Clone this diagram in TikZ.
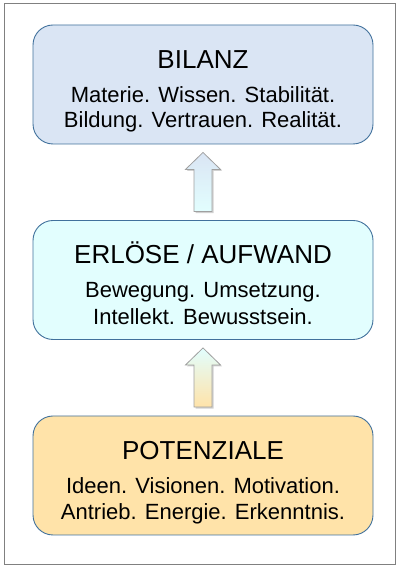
\documentclass[tikz,border=0pt]{standalone}
\usepackage{fontspec}
\setmainfont{Liberation Sans}
\usetikzlibrary{calc}
\definecolor{frameg}{HTML}{808080}
\definecolor{boxline}{HTML}{41719C}
\definecolor{topfill}{HTML}{DAE5F4}
\definecolor{midfill}{HTML}{E2FEFE}
\definecolor{botfill}{HTML}{FFE3A9}
\definecolor{arrline}{HTML}{A0A0A0}
\tikzset{
  panel/.style={draw=boxline, line width=0.9pt, rounded corners=20pt,
    minimum width=340pt, minimum height=119pt, inner sep=0pt},
  ttl/.style={anchor=base, inner sep=0pt, font=\fontsize{26}{30}\selectfont},
  txt/.style={anchor=base, inner sep=0pt, font=\fontsize{22}{25}\selectfont},
  blockarrow/.style={draw=arrline, line width=0.8pt},
}
\begin{document}
\begin{tikzpicture}[x=1pt,y=1pt]
\useasboundingbox (0,0) rectangle (401,572);
\draw[frameg, line width=1pt] (4,7) rectangle (395,568);

\node[panel, fill=topfill] (bilanz) at (203,487.5) {};
\node[panel, fill=midfill] (mid) at (203,292) {};
\node[panel, fill=botfill] (pot) at (203,96.5) {};

% texts
\node[ttl] (t1) at ($(bilanz.north)+(0,-44)$) {BILANZ};
\node[txt] (t1a) at ($(bilanz.north)+(0,-78)$) {Materie. Wissen. Stabilität.};
\node[txt] (t1b) at ($(bilanz.north)+(0,-103)$) {Bildung. Vertrauen. Realität.};

\node[ttl] (t2) at ($(mid.north)+(0,-43.5)$) {ERLÖSE / AUFWAND};
\node[txt] (t2a) at ($(mid.north)+(0,-77.5)$) {Bewegung. Umsetzung.};
\node[txt] (t2b) at ($(mid.north)+(0,-104)$) {Intellekt. Bewusstsein.};

\node[ttl] (t3) at ($(pot.north)+(0,-44)$) {POTENZIALE};
\node[txt] (t3a) at ($(pot.north)+(0,-78)$) {Ideen. Visionen. Motivation.};
\node[txt] (t3b) at ($(pot.north)+(0,-103.5)$) {Antrieb. Energie. Erkenntnis.};

% arrows
\coordinate (a1b) at ($(mid.north)+(0,8.5)$);
\coordinate (a1t) at ($(bilanz.south)+(0,-8)$);
\coordinate (a2b) at ($(pot.north)+(0,8.5)$);
\coordinate (a2t) at ($(mid.south)+(0,-8)$);

\foreach \b/\t/\ct/\cb in {a1b/a1t/topfill/midfill, a2b/a2t/midfill/botfill}{
  \fill[black, opacity=0.18]
    ($(\b)+(-9+1.5,-1.5)$) -- ($(\t)+(-9+1.5,-17-1.5)$) -- ($(\t)+(-17.5+1.5,-17-1.5)$) --
    ($(\t)+(1.5,-1.5)$) -- ($(\t)+(17.5+1.5,-17-1.5)$) -- ($(\t)+(9+1.5,-17-1.5)$) --
    ($(\b)+(9+1.5,-1.5)$) -- cycle;
  \shadedraw[blockarrow, top color=\ct, bottom color=\cb]
    ($(\b)+(-9,0)$) -- ($(\t)+(-9,-17)$) -- ($(\t)+(-17.5,-17)$) --
    (\t) -- ($(\t)+(17.5,-17)$) -- ($(\t)+(9,-17)$) --
    ($(\b)+(9,0)$) -- cycle;
}
\end{tikzpicture}
\end{document}
